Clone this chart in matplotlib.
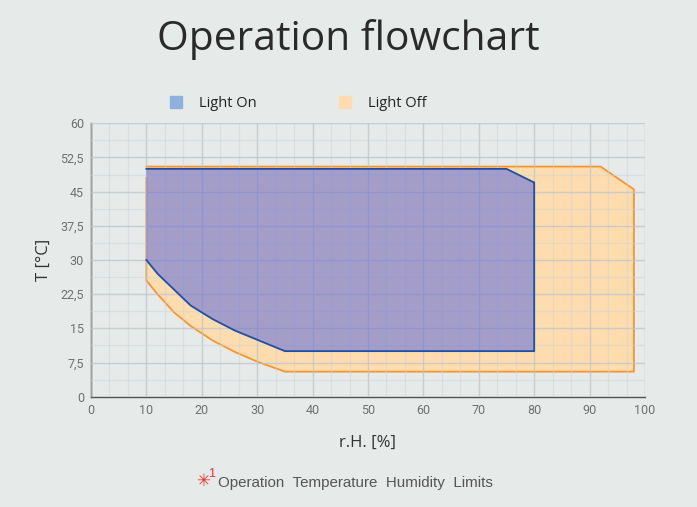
import matplotlib
matplotlib.use("Agg")
import matplotlib.pyplot as plt
from matplotlib.lines import Line2D
from matplotlib.ticker import MultipleLocator, FuncFormatter

# ---- data ----
on_rh = [10, 75, 80, 80, 35, 30, 26, 22, 18, 15, 12, 10]
on_t = [50, 50, 47, 10, 10, 12.5, 14.5, 17, 20, 23.5, 27, 30]

off_rh = [10, 10, 92, 98, 98, 35, 30, 26, 22, 18, 15, 12, 10]
off_t = [48, 50.5, 50.5, 45.5, 5.5, 5.5, 7.7, 9.8, 12.3, 15.5, 18.5, 22.5, 25.5]

x_ticks = list(range(0, 101, 10))
y_ticks = [0, 7.5, 15, 22.5, 30, 37.5, 45, 52.5, 60]
series_names = ["Light On", "Light Off"]

BG = "#e6eae8"
ON_FILL = "#6470dc"
ON_EDGE = "#1d4fa6"
OFF_FILL = "#fedcad"
OFF_EDGE = "#f7962f"

fig = plt.figure(figsize=(6.97, 5.07), dpi=100, facecolor=BG)
ax = fig.add_axes([91/697, 1-396.7/507, (645-91)/697, (396.7-123.3)/507])
ax.set_facecolor(BG)

# Light Off
ax.fill(off_rh[1:], off_t[1:], color=OFF_FILL, lw=0, zorder=1)
ax.plot(off_rh[1:] + [off_rh[0]], off_t[1:] + [off_t[0]], color=OFF_EDGE, lw=1.3, zorder=2)
# Light On
ax.fill(on_rh, on_t, color=ON_FILL, alpha=0.58, lw=0, zorder=3)
ax.plot(on_rh, on_t, color=ON_EDGE, lw=1.3, zorder=4)

ax.set_xlim(0, 100)
ax.set_ylim(0, 60)
ax.xaxis.set_minor_locator(MultipleLocator(10/3))
ax.yaxis.set_minor_locator(MultipleLocator(3.75))
ax.set_xticks(x_ticks)
ax.set_yticks(y_ticks)
ax.yaxis.set_major_formatter(FuncFormatter(lambda v, p: (f"{v:g}").replace(".", ",")))
ax.grid(which="major", color="#bcc4cc", alpha=0.75, lw=1.0, zorder=5)
ax.grid(which="minor", color="#ccd4dc", alpha=0.5, lw=0.9, zorder=5)
ax.set_axisbelow(False)
ax.tick_params(which="both", length=0, labelsize=9, labelcolor="#707070", pad=5, labelfontfamily="Roboto")
for s in ["top", "right"]:
    ax.spines[s].set_visible(False)
ax.spines["left"].set_color("#333333")
ax.spines["bottom"].set_color("#555555")
ax.spines["left"].set_linewidth(1.0)
ax.spines["bottom"].set_linewidth(1.0)

ax.set_xlabel("r.H. [%]", fontsize=12, color="#333333", family="Open Sans", labelpad=13)
ax.set_ylabel("T [°C]", fontsize=12, color="#333333", family="Open Sans", labelpad=6)

fig.text(0.5, 1-40/507, "Operation flowchart", ha="center", va="center",
         fontsize=29.3, color="#2a2a2a", family="Open Sans")

handles = [Line2D([], [], ls="none", marker="s", markersize=9, color="#8fb0dc"),
           Line2D([], [], ls="none", marker="s", markersize=9, color="#fedcad")]
fig.legend(handles, series_names, loc="center", bbox_to_anchor=(294/697, 1-104/507),
           ncol=2, frameon=False, prop={"family": "Open Sans", "size": 10.5},
           handletextpad=0.63, columnspacing=5.0, labelcolor="#222222")

fig.text(203/697, 1-481/507, "\u2733", color="#e8342b", fontsize=12, ha="center", va="center",
         family="DejaVu Sans")
fig.text(212/697, 1-474/507, "1", color="#e8342b", fontsize=9, ha="center", va="center",
         family="Liberation Sans")
fig.text(218/697, 1-483/507, "Operation  Temperature  Humidity  Limits", color="#555555",
         fontsize=10.9, ha="left", va="center", family="Liberation Sans")

fig.savefig("out.png", dpi=100, facecolor=BG)
